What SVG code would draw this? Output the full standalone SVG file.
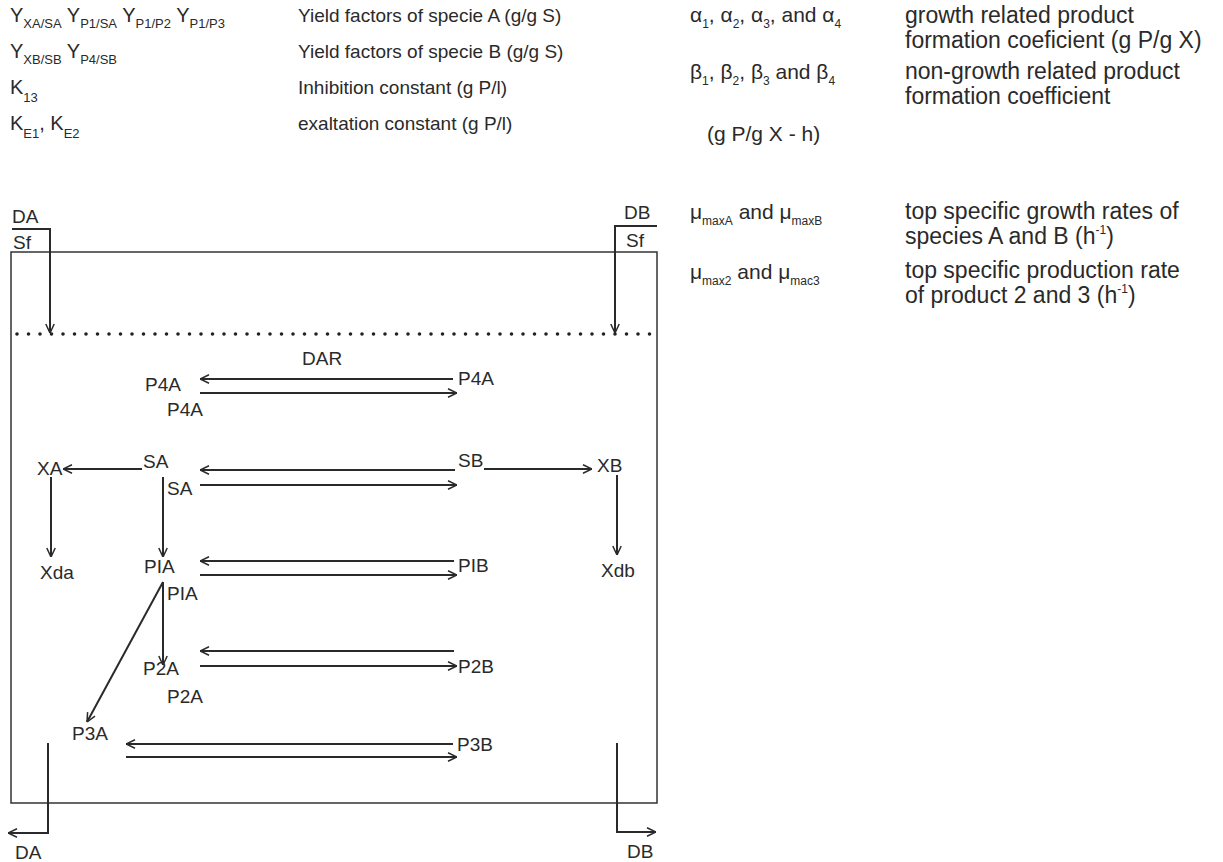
<svg xmlns="http://www.w3.org/2000/svg" width="1223" height="862" viewBox="0 0 1223 862">
<style>
text{font-family:"Liberation Sans",Arial,sans-serif;fill:#2a2a2a}
.lg{font-size:19px}
.ly{font-size:20px}
.gk{font-size:21px}
.rd{font-size:23px}
.sb{font-size:13px}
.sg{font-size:12px}
.nd{font-size:19px}
.ln{fill:none;stroke:#2a2a2a;stroke-width:2}
.box{fill:none;stroke:#333;stroke-width:1.5}
.dots{fill:none;stroke:#222;stroke-width:3.6;stroke-linecap:round;stroke-dasharray:0 11.5}
</style>
<defs>
<marker id="arr" viewBox="0 0 10 10" refX="10" refY="5" markerWidth="10" markerHeight="10" markerUnits="userSpaceOnUse" orient="auto">
<path d="M1,0.8 L10,5 L1,9.2" fill="none" stroke="#2a2a2a" stroke-width="1.5"/>
</marker>
</defs>
<rect width="1223" height="862" fill="#fff"/>

<g id="legend-left">
<text class="ly" x="10" y="22">Y<tspan class="sb" dy="6">XA/SA</tspan><tspan dy="-6"> Y</tspan><tspan class="sb" dy="6">P1/SA</tspan><tspan dy="-6"> Y</tspan><tspan class="sb" dy="6">P1/P2</tspan><tspan dy="-6"> Y</tspan><tspan class="sb" dy="6">P1/P3</tspan></text>
<text class="lg" x="298" y="22">Yield factors of specie A (g/g S)</text>
<text class="ly" x="10" y="58">Y<tspan class="sb" dy="6">XB/SB</tspan><tspan dy="-6"> Y</tspan><tspan class="sb" dy="6">P4/SB</tspan></text>
<text class="lg" x="298" y="58">Yield factors of specie B (g/g S)</text>
<text class="ly" x="10" y="94">K<tspan class="sb" dy="8">13</tspan></text>
<text class="lg" x="298" y="94">Inhibition constant (g P/l)</text>
<text class="ly" x="10" y="130">K<tspan class="sb" dy="8">E1</tspan><tspan dy="-8">, K</tspan><tspan class="sb" dy="8">E2</tspan></text>
<text class="lg" x="298" y="130">exaltation constant (g P/l)</text>
</g>

<g id="legend-right">
<text class="gk" x="690" y="22">α<tspan class="sg" dy="6">1</tspan><tspan dy="-6">, α</tspan><tspan class="sg" dy="6">2</tspan><tspan dy="-6">, α</tspan><tspan class="sg" dy="6">3</tspan><tspan dy="-6">, and α</tspan><tspan class="sg" dy="6">4</tspan></text>
<text class="rd" x="905" y="23">growth related product</text>
<text class="rd" x="905" y="48">formation coeficient (g P/g X)</text>
<text class="gk" x="690" y="79">β<tspan class="sg" dy="6">1</tspan><tspan dy="-6">, β</tspan><tspan class="sg" dy="6">2</tspan><tspan dy="-6">, β</tspan><tspan class="sg" dy="6">3</tspan><tspan dy="-6"> and β</tspan><tspan class="sg" dy="6">4</tspan></text>
<text class="rd" x="905" y="79">non-growth related product</text>
<text class="rd" x="905" y="104">formation coefficient</text>
<text class="gk" x="707" y="141">(g P/g X - h)</text>
<text class="gk" x="690" y="219">μ<tspan class="sg" dy="6">maxA</tspan><tspan dy="-6"> and μ</tspan><tspan class="sg" dy="6">maxB</tspan></text>
<text class="rd" x="905" y="219">top specific growth rates of</text>
<text class="rd" x="905" y="244">species A and B (h<tspan class="sg" dy="-10">-1</tspan><tspan dy="10">)</tspan></text>
<text class="gk" x="690" y="279">μ<tspan class="sg" dy="6">max2</tspan><tspan dy="-6"> and μ</tspan><tspan class="sg" dy="6">mac3</tspan></text>
<text class="rd" x="905" y="278">top specific production rate</text>
<text class="rd" x="905" y="303">of product 2 and 3 (h<tspan class="sg" dy="-10">-1</tspan><tspan dy="10">)</tspan></text>
</g>

<g id="vessel">
<rect class="box" x="11" y="252" width="646" height="551"/>
<line class="dots" x1="17" y1="334" x2="655" y2="334"/>
</g>

<g id="connectors">
<path class="ln" d="M12,229 H50 V333" marker-end="url(#arr)"/>
<path class="ln" d="M657,226 H615 V333" marker-end="url(#arr)"/>
<line class="ln" x1="453" y1="379" x2="200" y2="379" marker-end="url(#arr)"/>
<line class="ln" x1="200" y1="393" x2="457" y2="393" marker-end="url(#arr)"/>
<line class="ln" x1="455" y1="470" x2="200" y2="470" marker-end="url(#arr)"/>
<line class="ln" x1="200" y1="485" x2="457" y2="485" marker-end="url(#arr)"/>
<line class="ln" x1="454" y1="561" x2="200" y2="561" marker-end="url(#arr)"/>
<line class="ln" x1="200" y1="575" x2="457" y2="575" marker-end="url(#arr)"/>
<line class="ln" x1="454" y1="651" x2="200" y2="651" marker-end="url(#arr)"/>
<line class="ln" x1="200" y1="666" x2="457" y2="666" marker-end="url(#arr)"/>
<line class="ln" x1="453" y1="744" x2="126" y2="744" marker-end="url(#arr)"/>
<line class="ln" x1="126" y1="757" x2="457" y2="757" marker-end="url(#arr)"/>
<line class="ln" x1="142" y1="469" x2="63" y2="469" marker-end="url(#arr)"/>
<line class="ln" x1="484" y1="469" x2="592" y2="469" marker-end="url(#arr)"/>
<line class="ln" x1="51" y1="477" x2="51" y2="557" marker-end="url(#arr)"/>
<line class="ln" x1="617" y1="475" x2="617" y2="555" marker-end="url(#arr)"/>
<line class="ln" x1="163" y1="477" x2="163" y2="557" marker-end="url(#arr)"/>
<line class="ln" x1="163" y1="582" x2="163" y2="665" marker-end="url(#arr)"/>
<line class="ln" x1="163" y1="582" x2="87" y2="722" marker-end="url(#arr)"/>
<path class="ln" d="M48,743 V833 H8" marker-end="url(#arr)"/>
<path class="ln" d="M617,743 V832 H656" marker-end="url(#arr)"/>
</g>

<g id="n-DA-in"><text class="nd" x="12" y="223">DA</text></g>
<g id="n-Sf-A"><text class="nd" x="13" y="249">Sf</text></g>
<g id="n-DB-in"><text class="nd" x="624" y="219">DB</text></g>
<g id="n-Sf-B"><text class="nd" x="626" y="247">Sf</text></g>
<g id="n-DAR"><text class="nd" x="302" y="365">DAR</text></g>
<g id="n-P4A-left"><text class="nd" x="145" y="391">P4A</text></g>
<g id="n-P4A-right"><text class="nd" x="458" y="385">P4A</text></g>
<g id="n-P4A-low"><text class="nd" x="167" y="416">P4A</text></g>
<g id="n-XA"><text class="nd" x="37" y="475">XA</text></g>
<g id="n-SA"><text class="nd" x="143" y="468">SA</text></g>
<g id="n-SA2"><text class="nd" x="167" y="495">SA</text></g>
<g id="n-SB"><text class="nd" x="458" y="467">SB</text></g>
<g id="n-XB"><text class="nd" x="597" y="472">XB</text></g>
<g id="n-Xda"><text class="nd" x="40" y="579">Xda</text></g>
<g id="n-PIA"><text class="nd" x="144" y="573">PIA</text></g>
<g id="n-PIA2"><text class="nd" x="167" y="600">PIA</text></g>
<g id="n-PIB"><text class="nd" x="458" y="572">PIB</text></g>
<g id="n-Xdb"><text class="nd" x="601" y="577">Xdb</text></g>
<g id="n-P2A"><text class="nd" x="143" y="675">P2A</text></g>
<g id="n-P2A2"><text class="nd" x="167" y="703">P2A</text></g>
<g id="n-P2B"><text class="nd" x="458" y="673">P2B</text></g>
<g id="n-P3A"><text class="nd" x="72" y="740">P3A</text></g>
<g id="n-P3B"><text class="nd" x="457" y="751">P3B</text></g>
<g id="n-DA-out"><text class="nd" x="15" y="859">DA</text></g>
<g id="n-DB-out"><text class="nd" x="627" y="858">DB</text></g>
</svg>
